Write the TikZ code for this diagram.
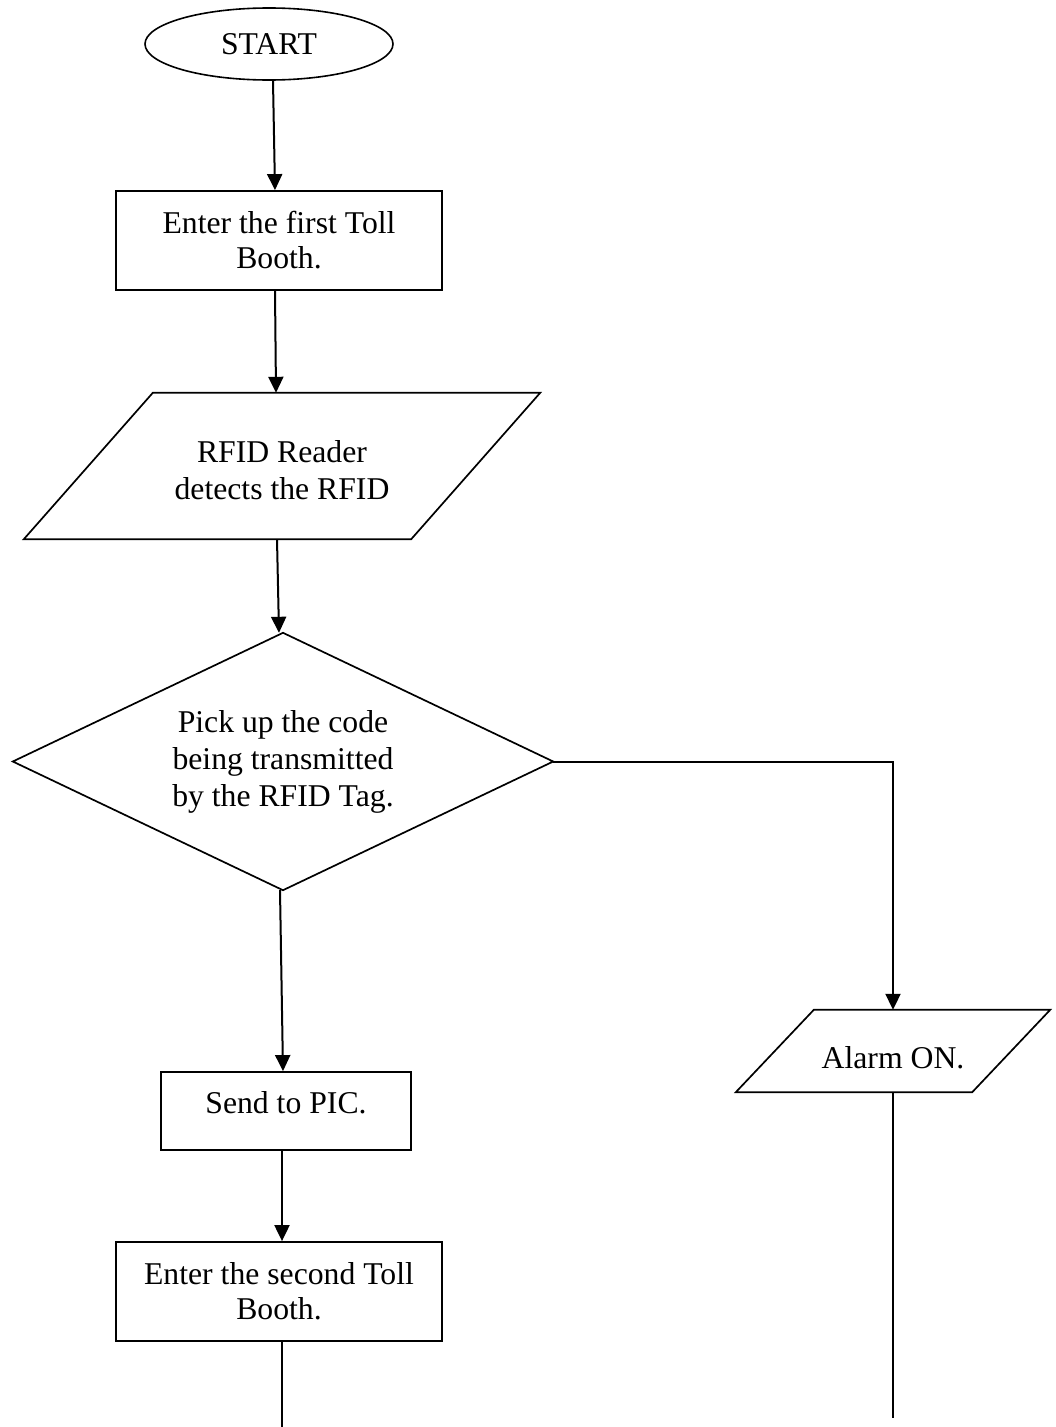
\documentclass[tikz,border=0pt]{standalone}
\usepackage{fontspec}
\setmainfont{Liberation Serif}
\usetikzlibrary{shapes.geometric,arrows.meta}
\newcommand{\flowfont}{\fontsize{31.7}{35}\selectfont}
\newcommand{\flowfontwide}{\fontsize{31.7}{37}\selectfont}
\begin{document}
\begin{tikzpicture}[x=1pt,y=-1pt,
  txt/.style={font=\flowfont, align=center},
  boxnode/.style={draw, line width=1.8pt, rectangle, inner sep=0pt, txt},
  framenode/.style={draw=none, rectangle, inner sep=0pt, txt},
  outline/.style={line width=1.7pt, line join=miter},
  arr/.style={line width=2pt, -{Triangle[width=15pt,length=16pt]}},
  flowline/.style={line width=2pt}]
\fill[white] (0,0) rectangle (1056,1427);
\useasboundingbox (0,0) rectangle (1056,1427);

% nodes
\node[draw, ellipse, line width=1.6pt, inner sep=0pt, minimum width=248pt, minimum height=72pt, txt] (start) at (269,44) {START};
\node[boxnode, minimum width=326pt, minimum height=99pt] (box1) at (279,240.5) {Enter the first Toll\\Booth.};
\node[framenode, minimum width=516pt, minimum height=146pt,
      label={[txt, font=\flowfontwide, yshift=-4pt]center:RFID Reader\\detects the RFID}] (para1) at (282,466) {};
\node[framenode, minimum width=540pt, minimum height=257pt, font=\flowfontwide] (dia) at (283,761.5) {Pick up the code\\being transmitted\\by the RFID Tag.};
\node[framenode, minimum width=314pt, minimum height=82pt,
      label={[txt, yshift=-7pt]center:Alarm ON.}] (alarm) at (893,1051) {};
\node[boxnode, minimum width=250pt, minimum height=78pt,
      label={[txt, yshift=8pt]center:Send to PIC.}] (send) at (286,1111) {};
\node[boxnode, minimum width=326pt, minimum height=99pt] (box2) at (279,1291.5) {Enter the second Toll\\Booth.};

\coordinate (endleft) at (282,1427);
\coordinate (endright) at (893,1418);

% outlines of parallelograms and diamond
\draw[outline] ([xshift=129pt]para1.north west) -- (para1.north east) -- ([xshift=-129pt]para1.south east) -- (para1.south west) -- cycle;
\draw[outline] (dia.north) -- (dia.east) -- (dia.south) -- (dia.west) -- cycle;
\draw[outline] ([xshift=78pt]alarm.north west) -- (alarm.north east) -- ([xshift=-78pt]alarm.south east) -- (alarm.south west) -- cycle;

% connectors
\draw[arr] ([xshift=4pt]start.south) -- ([xshift=-4pt]box1.north);
\draw[arr] ([xshift=-4pt]box1.south) -- ([xshift=-6pt]para1.north);
\draw[arr] ([xshift=-5pt]para1.south) -- ([xshift=-4pt]dia.north);
\draw[arr] ([xshift=-3pt]dia.south) -- ([xshift=-3pt]send.north);
\draw[arr] ([xshift=-4pt]send.south) -- ([xshift=3pt]box2.north);
\draw[flowline] ([xshift=3pt]box2.south) -- (endleft);
\draw[arr] (dia.east) -| (alarm.north);
\draw[flowline] (alarm.south) -- (endright);
\end{tikzpicture}
\end{document}
